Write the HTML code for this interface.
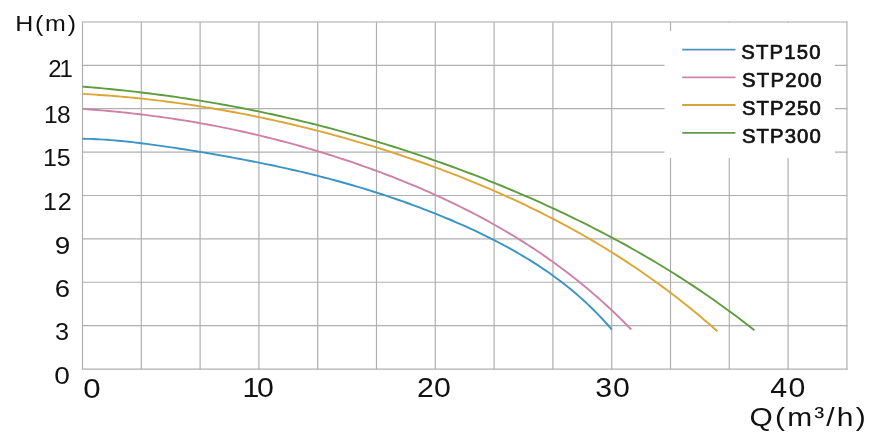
<!DOCTYPE html>
<html><head><meta charset="utf-8"><style>
html,body{margin:0;padding:0;background:#fff;}
svg{display:block;will-change:transform;}
text{font-family:"Liberation Sans",sans-serif;fill:#111;}
.yl{font-size:24px;}
.xl{font-size:27.5px;}
.ht{font-size:22.3px;}
.qt{font-size:26.5px;}
.lg{font-size:20.3px;font-weight:normal;stroke:#111;stroke-width:0.7px;}
</style></head><body>
<svg width="878" height="448" viewBox="0 0 878 448">
<g stroke="#b0b0b0" stroke-width="1.2" stroke-linecap="square" fill="none"><line x1="82.50" y1="21.95" x2="82.50" y2="369.05"/><line x1="141.30" y1="21.95" x2="141.30" y2="369.05"/><line x1="200.10" y1="21.95" x2="200.10" y2="369.05"/><line x1="258.90" y1="21.95" x2="258.90" y2="369.05"/><line x1="317.70" y1="21.95" x2="317.70" y2="369.05"/><line x1="376.50" y1="21.95" x2="376.50" y2="369.05"/><line x1="435.30" y1="21.95" x2="435.30" y2="369.05"/><line x1="494.10" y1="21.95" x2="494.10" y2="369.05"/><line x1="552.90" y1="21.95" x2="552.90" y2="369.05"/><line x1="611.70" y1="21.95" x2="611.70" y2="369.05"/><line x1="670.50" y1="21.95" x2="670.50" y2="369.05"/><line x1="729.30" y1="21.95" x2="729.30" y2="369.05"/><line x1="788.10" y1="21.95" x2="788.10" y2="369.05"/><line x1="846.90" y1="21.95" x2="846.90" y2="369.05"/><line x1="82.50" y1="369.05" x2="846.90" y2="369.05"/><line x1="82.50" y1="325.66" x2="846.90" y2="325.66"/><line x1="82.50" y1="282.27" x2="846.90" y2="282.27"/><line x1="82.50" y1="238.89" x2="846.90" y2="238.89"/><line x1="82.50" y1="195.50" x2="846.90" y2="195.50"/><line x1="82.50" y1="152.11" x2="846.90" y2="152.11"/><line x1="82.50" y1="108.72" x2="846.90" y2="108.72"/><line x1="82.50" y1="65.34" x2="846.90" y2="65.34"/><line x1="82.50" y1="22.05" x2="846.90" y2="22.05" stroke="#c4c4c4" stroke-width="1.4"/></g>
<rect x="664.5" y="31" width="170.5" height="127" fill="#fff"/>
<rect x="672" y="23" width="163" height="9" fill="#fff"/>
<path d="M82.50,138.81 L86.05,138.84 L89.61,138.92 L93.16,139.03 L96.71,139.18 L100.27,139.37 L103.82,139.58 L107.37,139.82 L110.92,140.09 L114.48,140.38 L118.03,140.70 L121.58,141.03 L125.14,141.39 L128.69,141.77 L132.24,142.16 L135.80,142.57 L139.35,143.00 L142.90,143.44 L146.45,143.89 L150.01,144.35 L153.56,144.83 L157.11,145.32 L160.67,145.82 L164.22,146.32 L167.77,146.84 L171.33,147.37 L174.88,147.90 L178.43,148.44 L181.98,148.99 L185.54,149.55 L189.09,150.11 L192.64,150.68 L196.20,151.26 L199.75,151.84 L203.30,152.43 L206.86,153.03 L210.41,153.64 L213.96,154.25 L217.51,154.86 L221.07,155.49 L224.62,156.12 L228.17,156.76 L231.73,157.41 L235.28,158.06 L238.83,158.72 L242.39,159.39 L245.94,160.07 L249.49,160.75 L253.04,161.45 L256.60,162.15 L260.15,162.86 L263.70,163.58 L267.26,164.31 L270.81,165.05 L274.36,165.80 L277.92,166.56 L281.47,167.33 L285.02,168.11 L288.58,168.90 L292.13,169.70 L295.68,170.52 L299.23,171.34 L302.79,172.18 L306.34,173.03 L309.89,173.89 L313.45,174.77 L317.00,175.65 L320.55,176.55 L324.11,177.47 L327.66,178.39 L331.21,179.33 L334.76,180.29 L338.32,181.26 L341.87,182.24 L345.42,183.23 L348.98,184.24 L352.53,185.27 L356.08,186.31 L359.64,187.36 L363.19,188.43 L366.74,189.52 L370.29,190.62 L373.85,191.73 L377.40,192.86 L380.95,194.01 L384.51,195.17 L388.06,196.35 L391.61,197.54 L395.17,198.75 L398.72,199.98 L402.27,201.22 L405.82,202.48 L409.38,203.76 L412.93,205.05 L416.48,206.36 L420.04,207.69 L423.59,209.04 L427.14,210.41 L430.70,211.79 L434.25,213.19 L437.80,214.61 L441.36,216.06 L444.91,217.52 L448.46,219.00 L452.01,220.50 L455.57,222.02 L459.12,223.57 L462.67,225.14 L466.23,226.73 L469.78,228.34 L473.33,229.98 L476.89,231.65 L480.44,233.34 L483.99,235.06 L487.54,236.80 L491.10,238.58 L494.65,240.39 L498.20,242.22 L501.76,244.09 L505.31,246.00 L508.86,247.93 L512.42,249.91 L515.97,251.92 L519.52,253.98 L523.07,256.07 L526.63,258.21 L530.18,260.40 L533.73,262.63 L537.29,264.91 L540.84,267.25 L544.39,269.63 L547.95,272.08 L551.50,274.59 L555.05,277.15 L558.60,279.79 L562.16,282.49 L565.71,285.26 L569.26,288.11 L572.82,291.04 L576.37,294.05 L579.92,297.14 L583.48,300.33 L587.03,303.61 L590.58,306.98 L594.13,310.46 L597.69,314.05 L601.24,317.75 L604.79,321.57 L608.35,325.51 L611.90,329.58" fill="none" stroke="#3b94c4" stroke-width="1.9" stroke-linecap="butt"/>
<path d="M82.50,108.90 L86.18,109.16 L89.87,109.44 L93.55,109.72 L97.23,110.02 L100.91,110.33 L104.60,110.64 L108.28,110.97 L111.96,111.31 L115.64,111.66 L119.33,112.02 L123.01,112.40 L126.69,112.78 L130.37,113.18 L134.06,113.59 L137.74,114.01 L141.42,114.45 L145.10,114.90 L148.79,115.36 L152.47,115.83 L156.15,116.32 L159.83,116.81 L163.52,117.33 L167.20,117.85 L170.88,118.39 L174.56,118.94 L178.25,119.51 L181.93,120.09 L185.61,120.68 L189.29,121.29 L192.98,121.91 L196.66,122.54 L200.34,123.19 L204.02,123.85 L207.71,124.52 L211.39,125.21 L215.07,125.92 L218.75,126.63 L222.44,127.36 L226.12,128.11 L229.80,128.87 L233.48,129.64 L237.17,130.43 L240.85,131.23 L244.53,132.05 L248.21,132.87 L251.90,133.72 L255.58,134.58 L259.26,135.45 L262.94,136.33 L266.63,137.23 L270.31,138.15 L273.99,139.08 L277.68,140.02 L281.36,140.98 L285.04,141.95 L288.72,142.94 L292.41,143.94 L296.09,144.95 L299.77,145.98 L303.45,147.03 L307.14,148.08 L310.82,149.16 L314.50,150.25 L318.18,151.35 L321.87,152.47 L325.55,153.60 L329.23,154.75 L332.91,155.91 L336.60,157.09 L340.28,158.28 L343.96,159.49 L347.64,160.72 L351.33,161.96 L355.01,163.21 L358.69,164.49 L362.37,165.78 L366.06,167.08 L369.74,168.40 L373.42,169.74 L377.10,171.09 L380.79,172.47 L384.47,173.85 L388.15,175.26 L391.83,176.68 L395.52,178.13 L399.20,179.59 L402.88,181.07 L406.56,182.56 L410.25,184.08 L413.93,185.61 L417.61,187.17 L421.29,188.74 L424.98,190.34 L428.66,191.95 L432.34,193.59 L436.02,195.25 L439.71,196.93 L443.39,198.63 L447.07,200.35 L450.76,202.10 L454.44,203.87 L458.12,205.66 L461.80,207.48 L465.49,209.32 L469.17,211.19 L472.85,213.09 L476.53,215.01 L480.22,216.95 L483.90,218.93 L487.58,220.93 L491.26,222.96 L494.95,225.03 L498.63,227.12 L502.31,229.24 L505.99,231.39 L509.68,233.58 L513.36,235.79 L517.04,238.04 L520.72,240.33 L524.41,242.65 L528.09,245.01 L531.77,247.40 L535.45,249.83 L539.14,252.30 L542.82,254.81 L546.50,257.36 L550.18,259.95 L553.87,262.58 L557.55,265.25 L561.23,267.97 L564.91,270.73 L568.60,273.54 L572.28,276.40 L575.96,279.31 L579.64,282.26 L583.33,285.27 L587.01,288.32 L590.69,291.43 L594.37,294.60 L598.06,297.82 L601.74,301.09 L605.42,304.43 L609.10,307.82 L612.79,311.28 L616.47,314.79 L620.15,318.37 L623.83,322.02 L627.52,325.73 L631.20,329.50" fill="none" stroke="#cf80a8" stroke-width="1.9" stroke-linecap="butt"/>
<path d="M82.50,93.89 L86.76,94.13 L91.02,94.38 L95.28,94.64 L99.54,94.93 L103.81,95.23 L108.07,95.55 L112.33,95.88 L116.59,96.23 L120.85,96.60 L125.11,96.98 L129.37,97.38 L133.63,97.80 L137.89,98.23 L142.16,98.68 L146.42,99.14 L150.68,99.62 L154.94,100.12 L159.20,100.63 L163.46,101.16 L167.72,101.70 L171.98,102.27 L176.24,102.84 L180.50,103.43 L184.77,104.04 L189.03,104.67 L193.29,105.30 L197.55,105.96 L201.81,106.63 L206.07,107.32 L210.33,108.02 L214.59,108.74 L218.85,109.47 L223.12,110.22 L227.38,110.98 L231.64,111.76 L235.90,112.55 L240.16,113.36 L244.42,114.19 L248.68,115.03 L252.94,115.89 L257.20,116.76 L261.47,117.64 L265.73,118.54 L269.99,119.46 L274.25,120.39 L278.51,121.34 L282.77,122.30 L287.03,123.28 L291.29,124.28 L295.55,125.28 L299.81,126.31 L304.08,127.35 L308.34,128.40 L312.60,129.47 L316.86,130.56 L321.12,131.66 L325.38,132.78 L329.64,133.91 L333.90,135.06 L338.16,136.22 L342.43,137.41 L346.69,138.60 L350.95,139.81 L355.21,141.04 L359.47,142.29 L363.73,143.55 L367.99,144.83 L372.25,146.12 L376.51,147.43 L380.78,148.76 L385.04,150.10 L389.30,151.46 L393.56,152.84 L397.82,154.24 L402.08,155.65 L406.34,157.08 L410.60,158.53 L414.86,160.00 L419.12,161.49 L423.39,162.99 L427.65,164.51 L431.91,166.05 L436.17,167.61 L440.43,169.19 L444.69,170.79 L448.95,172.41 L453.21,174.05 L457.47,175.70 L461.74,177.38 L466.00,179.08 L470.26,180.80 L474.52,182.54 L478.78,184.31 L483.04,186.09 L487.30,187.90 L491.56,189.73 L495.82,191.58 L500.09,193.46 L504.35,195.36 L508.61,197.28 L512.87,199.23 L517.13,201.20 L521.39,203.20 L525.65,205.22 L529.91,207.27 L534.17,209.35 L538.43,211.45 L542.70,213.58 L546.96,215.74 L551.22,217.92 L555.48,220.13 L559.74,222.38 L564.00,224.65 L568.26,226.95 L572.52,229.28 L576.78,231.65 L581.05,234.04 L585.31,236.47 L589.57,238.93 L593.83,241.42 L598.09,243.95 L602.35,246.51 L606.61,249.11 L610.87,251.74 L615.13,254.41 L619.40,257.12 L623.66,259.86 L627.92,262.64 L632.18,265.47 L636.44,268.33 L640.70,271.23 L644.96,274.17 L649.22,277.16 L653.48,280.19 L657.74,283.26 L662.01,286.37 L666.27,289.53 L670.53,292.74 L674.79,296.00 L679.05,299.30 L683.31,302.65 L687.57,306.05 L691.83,309.49 L696.09,312.99 L700.36,316.55 L704.62,320.15 L708.88,323.81 L713.14,327.52 L717.40,331.29" fill="none" stroke="#dca634" stroke-width="1.9" stroke-linecap="butt"/>
<path d="M82.50,86.59 L87.01,86.97 L91.52,87.36 L96.03,87.75 L100.54,88.17 L105.05,88.59 L109.56,89.02 L114.07,89.47 L118.58,89.93 L123.08,90.41 L127.59,90.89 L132.10,91.39 L136.61,91.91 L141.12,92.44 L145.63,92.98 L150.14,93.53 L154.65,94.10 L159.16,94.69 L163.67,95.29 L168.18,95.90 L172.69,96.53 L177.20,97.17 L181.71,97.83 L186.22,98.51 L190.73,99.20 L195.23,99.90 L199.74,100.62 L204.25,101.36 L208.76,102.11 L213.27,102.87 L217.78,103.66 L222.29,104.45 L226.80,105.27 L231.31,106.10 L235.82,106.94 L240.33,107.80 L244.84,108.68 L249.35,109.58 L253.86,110.49 L258.37,111.41 L262.88,112.35 L267.39,113.31 L271.89,114.29 L276.40,115.28 L280.91,116.28 L285.42,117.31 L289.93,118.35 L294.44,119.40 L298.95,120.47 L303.46,121.56 L307.97,122.67 L312.48,123.79 L316.99,124.92 L321.50,126.08 L326.01,127.25 L330.52,128.43 L335.03,129.64 L339.54,130.86 L344.04,132.09 L348.55,133.34 L353.06,134.61 L357.57,135.90 L362.08,137.20 L366.59,138.52 L371.10,139.85 L375.61,141.20 L380.12,142.57 L384.63,143.96 L389.14,145.36 L393.65,146.77 L398.16,148.21 L402.67,149.66 L407.18,151.13 L411.69,152.61 L416.20,154.12 L420.70,155.64 L425.21,157.17 L429.72,158.73 L434.23,160.30 L438.74,161.88 L443.25,163.49 L447.76,165.11 L452.27,166.75 L456.78,168.41 L461.29,170.09 L465.80,171.78 L470.31,173.50 L474.82,175.23 L479.33,176.97 L483.84,178.74 L488.35,180.53 L492.86,182.33 L497.36,184.16 L501.87,186.00 L506.38,187.86 L510.89,189.75 L515.40,191.65 L519.91,193.57 L524.42,195.51 L528.93,197.47 L533.44,199.46 L537.95,201.46 L542.46,203.49 L546.97,205.53 L551.48,207.60 L555.99,209.69 L560.50,211.81 L565.01,213.94 L569.51,216.10 L574.02,218.28 L578.53,220.49 L583.04,222.72 L587.55,224.97 L592.06,227.25 L596.57,229.56 L601.08,231.89 L605.59,234.25 L610.10,236.63 L614.61,239.04 L619.12,241.48 L623.63,243.94 L628.14,246.43 L632.65,248.96 L637.16,251.51 L641.67,254.09 L646.17,256.70 L650.68,259.35 L655.19,262.02 L659.70,264.73 L664.21,267.47 L668.72,270.25 L673.23,273.05 L677.74,275.90 L682.25,278.78 L686.76,281.69 L691.27,284.64 L695.78,287.63 L700.29,290.66 L704.80,293.73 L709.31,296.84 L713.82,299.98 L718.32,303.17 L722.83,306.41 L727.34,309.68 L731.85,313.00 L736.36,316.36 L740.87,319.78 L745.38,323.23 L749.89,326.74 L754.40,330.29" fill="none" stroke="#5e9d3d" stroke-width="1.9" stroke-linecap="butt"/>
<line x1="682.2" y1="49.6" x2="735.5" y2="49.6" stroke="#4e94c0" stroke-width="1.8"/>
<line x1="682.2" y1="77.3" x2="735.5" y2="77.3" stroke="#cd84aa" stroke-width="1.8"/>
<line x1="682.2" y1="105.0" x2="735.5" y2="105.0" stroke="#d3a43a" stroke-width="1.8"/>
<line x1="682.2" y1="132.8" x2="735.5" y2="132.8" stroke="#609c44" stroke-width="1.8"/>
<text transform="translate(48.214,76.650) scale(1.0000,1)" class="yl" letter-spacing="-2.060">21</text>
<text transform="translate(44.080,122.550) scale(1.0200,1)" class="yl" letter-spacing="-0.695">18</text>
<text transform="translate(43.115,165.650) scale(1.0400,1)" class="yl" letter-spacing="-0.280">15</text>
<text transform="translate(43.121,209.600) scale(1.0400,1)" class="yl" letter-spacing="0.700">12</text>
<text transform="translate(54.643,253.600) scale(1.1630,1)" class="yl">9</text>
<text transform="translate(54.739,296.700) scale(1.1475,1)" class="yl">6</text>
<text transform="translate(54.968,339.500) scale(1.0523,1)" class="yl">3</text>
<text transform="translate(54.144,383.600) scale(1.1678,1)" class="yl">0</text>
<text transform="translate(83.143,397.700) scale(1.1349,1)" class="xl">0</text>
<text transform="translate(242.400,396.650) scale(1.1000,1)" class="xl" letter-spacing="-1.960">10</text>
<text transform="translate(416.927,396.650) scale(1.1000,1)" class="xl" letter-spacing="0.280">20</text>
<text transform="translate(595.227,396.500) scale(1.1000,1)" class="xl" letter-spacing="0.940">30</text>
<text transform="translate(770.257,396.650) scale(1.1000,1)" class="xl" letter-spacing="1.220">40</text>
<text transform="translate(749.600,425.600) scale(1.1300,1)" class="qt" letter-spacing="1.905">Q(m³/h)</text>
<text transform="translate(741.253,58.700) scale(1.0000,1)" class="lg" letter-spacing="1.210">STP150</text>
<text transform="translate(741.951,86.700) scale(1.0000,1)" class="lg" letter-spacing="1.274">STP200</text>
<text transform="translate(741.954,114.600) scale(1.0000,1)" class="lg" letter-spacing="1.084">STP250</text>
<text transform="translate(741.954,142.600) scale(1.0000,1)" class="lg" letter-spacing="1.084">STP300</text>
<text transform="translate(15.205,30.500) scale(1.1200,1)" class="ht" letter-spacing="1.583">H(m)</text>
</svg>
</body></html>
